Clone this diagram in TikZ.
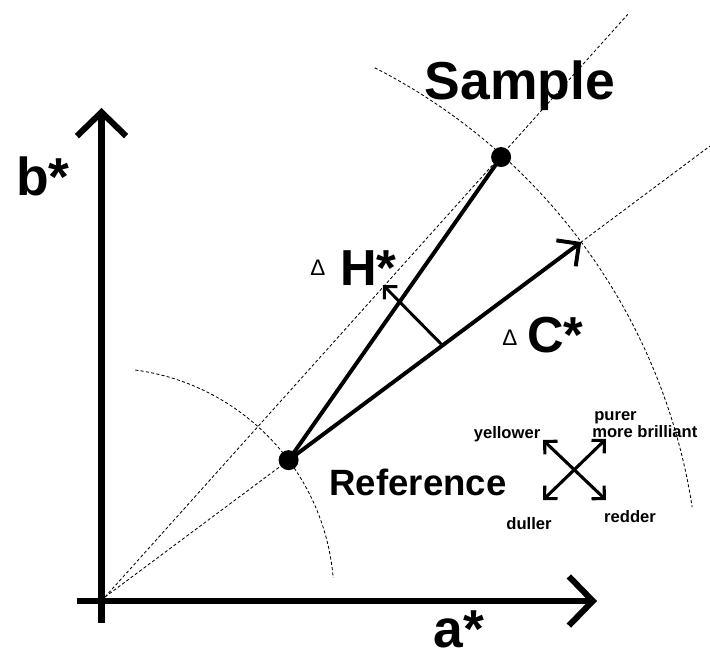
\documentclass[tikz,border=0pt]{standalone}
\usepackage{fontspec}
\setmainfont{Liberation Sans}
\usetikzlibrary{arrows.meta}

\newcommand{\bigtxt}{\fontsize{38}{40}\selectfont\bfseries}
\newcommand{\midtxt}{\fontsize{36}{38}\selectfont\bfseries}
\newcommand{\reftxt}{\fontsize{26}{28}\selectfont\bfseries}
\newcommand{\smalltxt}{\fontsize{11.8}{12}\selectfont\bfseries}
\newcommand{\deltxt}{\fontsize{16}{16}\selectfont}

\begin{document}
\begin{tikzpicture}[x=0.025cm, y=0.025cm, every node/.style={inner sep=0pt},
    guide/.style={line width=0.6pt, dash pattern=on 2.2pt off 1.6pt},
    axis/.style={line width=4.3pt, -{Straight Barb[length=17pt, width=35pt]}},
    vec/.style={line width=2.8pt},
    cross/.style={line width=2.2pt, {Straight Barb[length=6.5pt, width=13pt]}-{Straight Barb[length=6.5pt, width=13pt]}}]
    \useasboundingbox (-105,-63) rectangle (605,597);

    % Точки
    \coordinate (O) at (0,0);
    \coordinate (ref) at (36.7:229);
    \coordinate (smp) at (48:592);
    \coordinate (ctip) at (36.7:594);
    \coordinate (hbase) at (36.7:421);
    \coordinate (htip) at (278,312);
    \coordinate (ray1) at (48.1:783);
    \coordinate (ray2) at (36.7:755);

    % Вспомогательные линии
    \draw[guide] (O) -- (ray1);
    \draw[guide] (O) -- (ray2);
    \draw[guide] (82.4:229) arc[start angle=82.4, end angle=4.8, radius=229];
    \draw[guide] (63:594) arc[start angle=63, end angle=8.7, radius=594];

    % Оси
    \coordinate (xa) at (-28,-4);
    \coordinate (xb) at (492,-4);
    \coordinate (ya) at (-3.5,-26);
    \coordinate (yb) at (-3.5,489);
    \draw[axis] (xa) -- (xb);
    \draw[axis] (ya) -- (yb);

    % Векторы
    \draw[vec] (ref) -- (smp);
    \draw[vec, -{Straight Barb[length=11.5pt, width=23pt]}] (ref) -- (ctip);
    \draw[line width=2.1pt, -{Straight Barb[length=6.5pt, width=13pt]}] (hbase) -- (htip);
    \fill (ref) circle (10);
    \fill (smp) circle (10);

    % Крест направлений
    \coordinate (yl) at (438,157);
    \coordinate (rd) at (501,97);
    \coordinate (pu) at (501,158);
    \coordinate (du) at (438,97);
    \draw[cross] (yl) -- (rd);
    \draw[cross] (du) -- (pu);

    % Подписи
    \node[anchor=base, font=\bigtxt] (bl) at (-62,402) {b*};
    \node[anchor=base, font=\bigtxt] (al) at (354,-50) {a*};
    \node[anchor=base, font=\bigtxt] (sl) at (415,497) {Sample};
    \node[anchor=base, font=\reftxt] (rl) at (313,102) {Reference};
    \node[anchor=base west, font=\deltxt] (dh) at (205,322) {Δ};
    \node[anchor=base west, font=\midtxt] (hl) at (235,312) {H*};
    \node[anchor=base west, font=\deltxt] (dc) at (397,252) {Δ};
    \node[anchor=base west, font=\midtxt] (cl) at (422,245) {C*};
    \node[font=\smalltxt] (yw) at (402,163) {yellower};
    \node[anchor=west, font=\smalltxt] (pr) at (489,179) {purer};
    \node[anchor=west, font=\smalltxt] (mb) at (487,165) {more brilliant};
    \node[font=\smalltxt] (dl) at (424,73) {duller};
    \node[font=\smalltxt] (rr) at (525,80) {redder};
\end{tikzpicture}
\end{document}
